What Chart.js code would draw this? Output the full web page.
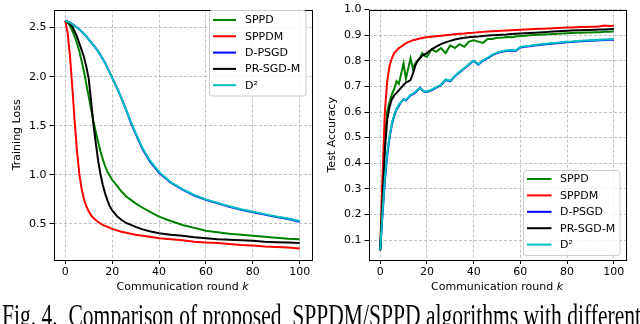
<!DOCTYPE html>
<html><head><meta charset="utf-8">
<script src="https://cdn.jsdelivr.net/npm/chart.js@4.4.1/dist/chart.umd.min.js"></script>
<style>
html,body{margin:0;padding:0;background:#fff;overflow:hidden;width:640px;height:324px;position:relative}
canvas{position:absolute;top:0}
#c1{left:0}
#c2{left:320px}
#cap{position:absolute;left:2px;top:300px;font-family:"Liberation Serif",serif;font-size:21px;line-height:21px;white-space:pre;color:#000;transform-origin:0 0}
</style></head>
<body>
<canvas id="c1" width="320" height="300"></canvas>
<canvas id="c2" width="320" height="300"></canvas>
<div id="cap">Fig. 4.  Comparison of proposed  SPPDM/SPPD algorithms with different</div>
<script>
// ---------- data ----------
const seriesNames = ['SPPD', 'SPPDM', 'D-PSGD', 'PR-SGD-M', 'D\u00B2'];
const seriesColors = ['#008000', '#ff0000', '#0000ff', '#000000', '#00bfbf'];
const xTicks = [0, 20, 40, 60, 80, 100];
const lossTicks = [0.5, 1.0, 1.5, 2.0, 2.5];
const accTicks = [0.1, 0.2, 0.3, 0.4, 0.5, 0.6, 0.7, 0.8, 0.9, 1.0];

const kLoss = [0,1,2,3,4,5,6,7,8,9,10,11,12,13,14,15,16,17,18,19,20,22,24,26,28,30,33,36,40,45,50,55,60,65,70,75,80,85,90,95,100];
const lossSPPD   = [2.57,2.55,2.52,2.47,2.41,2.34,2.26,2.16,2.05,1.92,1.80,1.67,1.55,1.44,1.34,1.24,1.16,1.09,1.03,0.99,0.95,0.89,0.83,0.78,0.745,0.71,0.665,0.625,0.575,0.53,0.49,0.46,0.43,0.415,0.40,0.39,0.38,0.37,0.36,0.35,0.345];
const lossSPPDM  = [2.57,2.45,2.22,1.90,1.55,1.25,1.01,0.86,0.75,0.68,0.63,0.59,0.56,0.54,0.52,0.505,0.49,0.48,0.47,0.46,0.45,0.435,0.42,0.41,0.40,0.39,0.38,0.37,0.355,0.345,0.335,0.32,0.31,0.305,0.295,0.285,0.28,0.27,0.265,0.26,0.25];
const lossDPSGD  = [2.57,2.56,2.55,2.535,2.52,2.50,2.48,2.46,2.435,2.41,2.38,2.35,2.32,2.29,2.26,2.22,2.18,2.14,2.09,2.04,1.99,1.89,1.78,1.66,1.53,1.42,1.26,1.14,1.02,0.92,0.85,0.79,0.745,0.71,0.675,0.645,0.62,0.595,0.57,0.55,0.522];
const lossPRSGDM = [2.57,2.56,2.54,2.51,2.46,2.41,2.34,2.27,2.20,2.10,1.98,1.76,1.52,1.33,1.15,1.01,0.90,0.81,0.74,0.68,0.64,0.58,0.54,0.51,0.49,0.47,0.445,0.425,0.405,0.39,0.38,0.365,0.355,0.345,0.34,0.335,0.33,0.32,0.315,0.31,0.305];
const lossD2     = [2.57,2.56,2.55,2.535,2.52,2.50,2.48,2.46,2.435,2.41,2.38,2.35,2.32,2.29,2.26,2.22,2.18,2.14,2.09,2.04,1.99,1.89,1.78,1.66,1.54,1.43,1.27,1.15,1.03,0.925,0.855,0.795,0.75,0.715,0.68,0.65,0.625,0.60,0.575,0.555,0.53];

const kAcc = [0,1,2,3,4,5,6,7,8,9,10,11,12,13,14,15,16,17,18,19,20,22,24,26,28,30,32,34,36,38,40,42,44,46,48,50,52,54,56,58,60,62,64,66,68,70,72,74,76,78,80,82,84,86,88,90,92,94,96,98,100];
const accSPPD   = [0.06,0.30,0.50,0.60,0.64,0.67,0.69,0.72,0.71,0.75,0.79,0.73,0.77,0.81,0.77,0.79,0.80,0.81,0.83,0.82,0.815,0.845,0.835,0.85,0.83,0.86,0.85,0.865,0.855,0.875,0.88,0.875,0.87,0.885,0.885,0.89,0.89,0.893,0.892,0.895,0.897,0.898,0.90,0.901,0.902,0.903,0.904,0.905,0.906,0.907,0.908,0.909,0.91,0.91,0.911,0.911,0.912,0.912,0.913,0.913,0.914];
const accSPPDM  = [0.06,0.35,0.60,0.72,0.78,0.81,0.83,0.84,0.85,0.855,0.862,0.868,0.873,0.877,0.88,0.882,0.885,0.887,0.889,0.891,0.892,0.894,0.896,0.898,0.90,0.902,0.904,0.906,0.907,0.909,0.91,0.912,0.913,0.914,0.915,0.916,0.917,0.918,0.919,0.92,0.921,0.922,0.923,0.924,0.925,0.925,0.926,0.927,0.928,0.929,0.93,0.93,0.931,0.932,0.932,0.933,0.933,0.935,0.938,0.936,0.937];
const accDPSGD  = [0.06,0.20,0.33,0.43,0.50,0.55,0.585,0.61,0.625,0.64,0.65,0.645,0.655,0.665,0.67,0.675,0.685,0.695,0.685,0.68,0.678,0.685,0.695,0.705,0.725,0.72,0.74,0.755,0.77,0.785,0.80,0.785,0.80,0.81,0.822,0.83,0.835,0.838,0.84,0.838,0.852,0.855,0.857,0.86,0.862,0.864,0.866,0.868,0.869,0.871,0.872,0.873,0.875,0.876,0.877,0.878,0.879,0.88,0.881,0.882,0.882];
const accPRSGDM = [0.06,0.25,0.45,0.57,0.62,0.65,0.665,0.675,0.685,0.695,0.705,0.715,0.72,0.725,0.75,0.78,0.80,0.81,0.82,0.825,0.83,0.845,0.855,0.865,0.872,0.878,0.883,0.887,0.89,0.892,0.894,0.895,0.897,0.899,0.90,0.901,0.902,0.903,0.905,0.906,0.907,0.908,0.909,0.91,0.911,0.912,0.913,0.914,0.915,0.916,0.917,0.918,0.919,0.919,0.92,0.92,0.921,0.922,0.922,0.923,0.924];
const accD2     = [0.06,0.21,0.34,0.44,0.505,0.555,0.59,0.612,0.628,0.64,0.648,0.648,0.657,0.667,0.672,0.678,0.687,0.693,0.687,0.681,0.68,0.687,0.697,0.707,0.727,0.722,0.742,0.757,0.772,0.787,0.80,0.787,0.802,0.812,0.824,0.832,0.837,0.84,0.842,0.84,0.854,0.857,0.859,0.862,0.864,0.866,0.868,0.87,0.871,0.873,0.874,0.875,0.877,0.878,0.879,0.88,0.881,0.882,0.883,0.884,0.885];

// ---------- helpers ----------
const FONT = '"DejaVu Sans", sans-serif';
function pairs(k, v) { return k.map((x, i) => ({ x: x, y: v[i] })); }
function makeDatasets(k, list) {
  return list.map((vals, i) => ({
    label: seriesNames[i],
    data: pairs(k, vals),
    borderColor: seriesColors[i],
    backgroundColor: seriesColors[i],
    borderWidth: 2,
    pointRadius: 0,
    tension: 0,
    fill: false,
    order: list.length - i
  }));
}

const framePlugin = {
  id: 'frame',
  afterDatasetsDraw(chart) {
    const a = chart.chartArea, ctx = chart.ctx;
    ctx.save();
    ctx.strokeStyle = '#000';
    ctx.lineWidth = 1;
    ctx.strokeRect(Math.round(a.left) + 0.5, Math.round(a.top) + 0.5,
      Math.round(a.right) - Math.round(a.left), Math.round(a.bottom) - Math.round(a.top));
    ctx.restore();
  }
};

const boxLegendPlugin = {
  id: 'boxLegend',
  afterDatasetsDraw(chart, args, o) {
    const ctx = chart.ctx;
    ctx.save();
    const r = 2.5;
    ctx.beginPath();
    ctx.moveTo(o.x + r, o.y);
    ctx.lineTo(o.x + o.w - r, o.y);
    ctx.quadraticCurveTo(o.x + o.w, o.y, o.x + o.w, o.y + r);
    ctx.lineTo(o.x + o.w, o.y + o.h - r);
    ctx.quadraticCurveTo(o.x + o.w, o.y + o.h, o.x + o.w - r, o.y + o.h);
    ctx.lineTo(o.x + r, o.y + o.h);
    ctx.quadraticCurveTo(o.x, o.y + o.h, o.x, o.y + o.h - r);
    ctx.lineTo(o.x, o.y + r);
    ctx.quadraticCurveTo(o.x, o.y, o.x + r, o.y);
    ctx.closePath();
    ctx.fillStyle = 'rgba(255,255,255,0.8)';
    ctx.fill();
    ctx.strokeStyle = '#cccccc';
    ctx.lineWidth = 1;
    ctx.stroke();
    ctx.font = '11px ' + FONT;
    ctx.textBaseline = 'middle';
    ctx.textAlign = 'left';
    seriesNames.forEach((name, i) => {
      const y = o.firstY + i * o.gap;
      ctx.strokeStyle = seriesColors[i];
      ctx.lineWidth = 2;
      ctx.beginPath();
      ctx.moveTo(o.lineX0, y);
      ctx.lineTo(o.lineX1, y);
      ctx.stroke();
      ctx.fillStyle = '#000';
      ctx.fillText(name, o.textX, y + 0.5);
    });
    ctx.restore();
  }
};

const titlesPlugin = {
  id: 'axisTitles',
  afterDraw(chart, args, o) {
    const ctx = chart.ctx, a = chart.chartArea;
    ctx.save();
    ctx.fillStyle = '#000';
    ctx.textBaseline = 'middle';
    const p1 = 'Communication round ', p2 = 'k';
    ctx.font = '11px ' + FONT;
    const w1 = ctx.measureText(p1).width;
    ctx.font = 'italic 11px ' + FONT;
    const w2 = ctx.measureText(p2).width;
    const cx = (a.left + a.right) / 2;
    const x0 = cx - (w1 + w2) / 2;
    ctx.textAlign = 'left';
    ctx.font = '11px ' + FONT;
    ctx.fillText(p1, x0, o.xTitleY);
    ctx.font = 'italic 11px ' + FONT;
    ctx.fillText(p2, x0 + w1, o.xTitleY);
    ctx.font = '11px ' + FONT;
    ctx.translate(o.yTitleX, (a.top + a.bottom) / 2);
    ctx.rotate(-Math.PI / 2);
    ctx.textAlign = 'center';
    ctx.fillText(o.yTitle, 0, 0);
    ctx.restore();
  }
};

function scaleX() {
  return {
    type: 'linear', min: -5, max: 105,
    afterBuildTicks: s => { s.ticks = xTicks.map(v => ({ value: v })); },
    afterFit: s => { s.height = 40; },
    ticks: { color: '#000', font: { family: FONT, size: 11 }, padding: 2, maxRotation: 0, autoSkip: false,
      callback: v => String(v) },
    grid: { color: '#b0b0b0', lineWidth: 0.8, tickColor: '#000', tickLength: 4, tickWidth: 1, tickBorderDash: [] },
    border: { display: false, dash: [3, 2] }
  };
}
function scaleY(min, max, ticks, width) {
  return {
    type: 'linear', min: min, max: max,
    afterBuildTicks: s => { s.ticks = ticks.map(v => ({ value: v })); },
    afterFit: s => { s.width = width; },
    ticks: { color: '#000', font: { family: FONT, size: 11 }, padding: 3, autoSkip: false,
      callback: v => Number(v).toFixed(1) },
    grid: { color: '#b0b0b0', lineWidth: 0.8, tickColor: '#000', tickLength: 4, tickWidth: 1, tickBorderDash: [] },
    border: { display: false, dash: [3, 2] }
  };
}

new Chart(document.getElementById('c1'), {
  type: 'line',
  data: { datasets: makeDatasets(kLoss, [lossSPPD, lossSPPDM, lossDPSGD, lossPRSGDM, lossD2]) },
  options: {
    responsive: false, animation: false, devicePixelRatio: 1,
    layout: { padding: { left: 0, top: 5, right: 8.5, bottom: 0 } },
    scales: { x: scaleX(), y: scaleY(0.133, 2.683, lossTicks, 53.5) },
    plugins: {
      legend: { display: false }, tooltip: { enabled: false },
      boxLegend: { x: 209.5, y: 10.5, w: 96.5, h: 85.5, firstY: 20, gap: 16.3, lineX0: 213, lineX1: 236, textX: 245 },
      axisTitles: { xTitleY: 287, yTitleX: 17.5, yTitle: 'Training Loss' }
    }
  },
  plugins: [framePlugin, boxLegendPlugin, titlesPlugin]
});

new Chart(document.getElementById('c2'), {
  type: 'line',
  data: { datasets: makeDatasets(kAcc, [accSPPD, accSPPDM, accDPSGD, accPRSGDM, accD2]) },
  options: {
    responsive: false, animation: false, devicePixelRatio: 1,
    layout: { padding: { left: 0, top: 5, right: 14.5, bottom: 0 } },
    scales: { x: scaleX(), y: scaleY(0.022, 1.0, accTicks, 48.5) },
    plugins: {
      legend: { display: false }, tooltip: { enabled: false },
      boxLegend: { x: 203.5, y: 170.5, w: 96.5, h: 85, firstY: 179, gap: 16.4, lineX0: 207, lineX1: 231.5, textX: 240 },
      axisTitles: { xTitleY: 287, yTitleX: 12.5, yTitle: 'Test Accuracy' }
    }
  },
  plugins: [framePlugin, boxLegendPlugin, titlesPlugin]
});

// caption fit (layout only)
(function () {
  const cap = document.getElementById('cap');
  const w = cap.getBoundingClientRect().width;
  const sx = 639 / w, sy = 1.55;
  const baseline = 327;
  cap.style.top = (baseline - 17.6 * sy) + 'px';
  cap.style.transform = 'scale(' + sx + ',' + sy + ')';
})();
</script>
</body></html>
